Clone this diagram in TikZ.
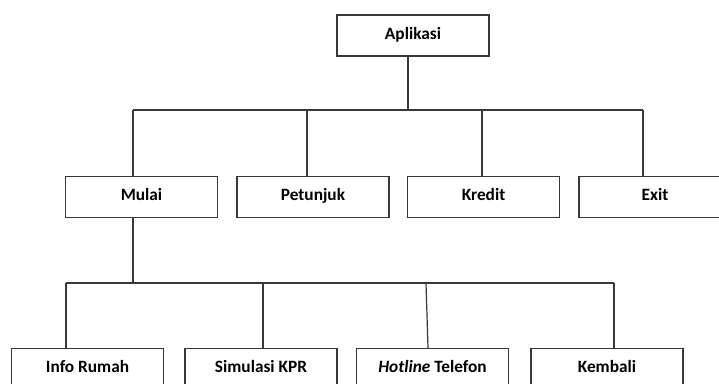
\documentclass[tikz,border=0pt]{standalone}
\usepackage{fontspec}
\setmainfont{Carlito}
\begin{document}
\begin{tikzpicture}[x=1pt,y=-1pt,
  box/.style={draw=black!78, line width=1.2pt, fill=white, minimum width=152pt, minimum height=41pt, inner sep=0pt, text height=11.5pt, text depth=4pt, font=\fontsize{17.3}{20}\selectfont\bfseries},
  conn/.style={draw=black!78, line width=1.2pt}]
\useasboundingbox (0,0) rectangle (719,383);
\clip (0,0) rectangle (719,383);
% level 0
\node[box] (apl) at (413,35.5) {Aplikasi};
% level 1
\node[box] (mulai) at (141.5,197) {Mulai};
\node[box] (pet) at (313,197) {Petunjuk};
\node[box] (kre) at (483.5,197) {Kredit};
\node[box] (exit) at (655,197) {Exit};
% level 2
\node[box] (info) at (87.5,369) {Info Rumah};
\node[box] (sim) at (261,369) {Simulasi KPR};
\node[box] (hot) at (432.5,369) {\textit{Hotline} Telefon};
\node[box] (kem) at (607,369) {Kembali};
% bus coordinates
\coordinate (a0) at (408,110);
\coordinate (b1) at (133,110);
\coordinate (b2) at (307,110);
\coordinate (b3) at (482,110);
\coordinate (b4) at (643,110);
\coordinate (m0) at (133,283);
\coordinate (c1) at (66,283);
\coordinate (c2) at (263,283);
\coordinate (c3) at (426,283);
\coordinate (c4) at (614,283);
% connectors
\draw[conn] (a0 |- apl.south) -- (a0);
\draw[conn] (b1) -- (b4);
\draw[conn] (b1) -- (b1 |- mulai.north);
\draw[conn] (b2) -- (b2 |- pet.north);
\draw[conn] (b3) -- (b3 |- kre.north);
\draw[conn] (b4) -- (b4 |- exit.north);
\draw[conn] (m0 |- mulai.south) -- (m0);
\draw[conn] (c1) -- (c4);
\draw[conn] (c1) -- (c1 |- info.north);
\draw[conn] (c2) -- (c2 |- sim.north);
\draw[conn] (c3) -- ([xshift=2pt]c3 |- hot.north);
\draw[conn] (c4) -- (c4 |- kem.north);
\end{tikzpicture}
\end{document}
